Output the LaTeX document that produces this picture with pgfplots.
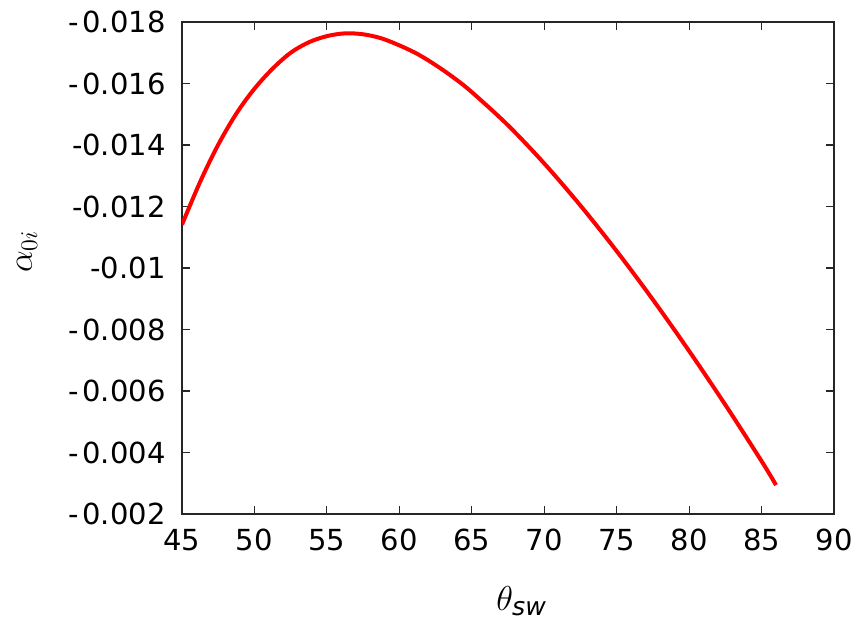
\documentclass[border=0pt]{standalone}
\usepackage{amsmath}
\usepackage{pgfplots}
\pgfplotsset{compat=1.18}
\usepackage{fontspec}
\setmainfont{DejaVu Sans}
\begin{document}
\begin{tikzpicture}
\begin{axis}[
  at={(0,0)}, anchor=south west,
  scale only axis, width=326pt, height=246pt,
  xmin=45, xmax=90, ymin=-0.018, ymax=-0.002,
  y dir=reverse,
  scaled y ticks=false, scaled x ticks=false,
  xtick={45,50,55,60,65,70,75,80,85,90},
  xticklabels={45,50,55,60,65,70,75,80,85,90},
  ytick={-0.018,-0.016,-0.014,-0.012,-0.010,-0.008,-0.006,-0.004,-0.002},
  yticklabels={-\kern1.6pt0.018,-\kern1.6pt0.016,-0.014,-0.012,-0.01,-\kern1.6pt0.008,-\kern1.6pt0.006,-\kern1.6pt0.004,-\kern1.6pt0.002},
  xtick pos=both, ytick pos=both,
  tick align=inside, major tick length=4pt,
  axis line style={line width=0.75pt, color=black!85},
  tick style={color=black!85, line width=0.6pt},
  ticklabel style={font=\fontsize{14.5}{17}\selectfont},
  yticklabel style={xshift=-4.7pt},
  xticklabel style={yshift=-4.2pt},
  xlabel={$\theta_{\text{\itshape sw}}$},
  ylabel={$\alpha_{0i}$},
  xlabel style={at={(axis description cs:0.521,-0.177)}, anchor=center, font=\fontsize{18}{22}\selectfont},
  ylabel style={at={(axis description cs:-0.2377,0.533)}, anchor=center, font=\fontsize{18}{22}\selectfont},
]
\addplot[color=red, line width=2pt, smooth, tension=0.55] coordinates {
(45,-0.01141) (46.25,-0.01280) (47.5,-0.01401) (48.75,-0.01502) (50,-0.01583)
(51.25,-0.01648) (52.5,-0.01700) (53.75,-0.01734) (55,-0.01754) (56.25,-0.01763)
(57.5,-0.01760) (58.75,-0.01747) (60,-0.01724) (61.25,-0.01696) (62.5,-0.01660)
(63.75,-0.01619) (65,-0.01572) (67.5,-0.01464)
(70,-0.01340) (72.5,-0.01203) (75,-0.01055) (77.5,-0.00897) (80,-0.00730)
(82.5,-0.00555) (85,-0.00372) (86,-0.00294)
};
\end{axis}
\pgfresetboundingbox
\path[use as bounding box] (-91pt,-55pt) rectangle (339pt,257pt);
\end{tikzpicture}
\end{document}
